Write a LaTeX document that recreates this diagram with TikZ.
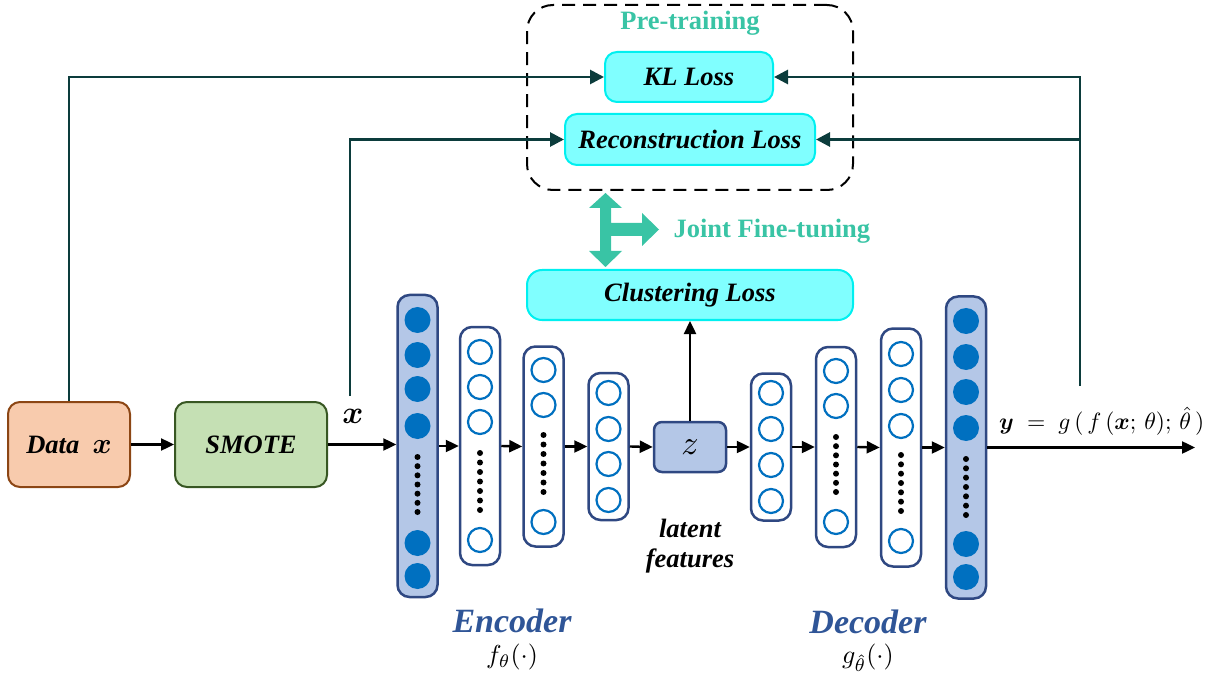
\RequirePackage{fix-cm}
\documentclass[tikz,border=0pt]{standalone}
\usepackage{amsmath}
\usepackage{graphicx}
\usepackage{fontspec}
\setmainfont{Liberation Serif}
\usetikzlibrary{arrows.meta}
\definecolor{cyanfill}{RGB}{128,255,255}
\definecolor{cyanline}{RGB}{0,240,240}
\definecolor{layerfill}{RGB}{180,199,231}
\definecolor{layerline}{RGB}{47,72,130}
\definecolor{cblue}{RGB}{0,112,192}
\definecolor{tealc}{RGB}{57,196,165}
\definecolor{connc}{RGB}{12,60,60}
\definecolor{encc}{RGB}{47,85,151}
\definecolor{datafill}{RGB}{248,203,173}
\definecolor{dataline}{RGB}{140,70,20}
\definecolor{smotefill}{RGB}{197,224,180}
\definecolor{smoteline}{RGB}{56,87,35}
\newcommand\dotcol[3]{\foreach \i in {0,...,6}{\fill[black] (#1,{#2+\i*(#3-#2)/6}) circle[radius=3pt];}}
\newcommand\fcirc[2]{\fill[cblue] (#1,#2) circle[radius=13pt];}
\newcommand\ocirc[2]{\draw[cblue,line width=2.2pt] (#1,#2) circle[radius=12pt];}
\newcommand\scmath[2]{\scalebox{#1}{\fontsize{10}{12}\selectfont$#2$}}
\begin{document}
\begin{tikzpicture}[x=1pt,y=-1pt,
  lbl/.style={font=\fontsize{26.5}{30}\selectfont\bfseries\itshape},
  lossbox/.style={draw=cyanline,fill=cyanfill,line width=2pt,rounded corners=12pt,inner sep=0pt,lbl},
  layerF/.style={draw=layerline,fill=layerfill,line width=2.5pt,rounded corners=12pt,minimum width=40pt,inner sep=0pt},
  layerO/.style={draw=layerline,fill=white,line width=2.5pt,rounded corners=12pt,minimum width=40pt,inner sep=0pt},
  arr/.style={line width=2.4pt,black,-{Triangle[length=13pt,width=12pt]}},
  conn/.style={line width=2.8pt,draw=connc,-{Triangle[length=14pt,width=14pt]}},
  tealtxt/.style={text=tealc,font=\fontsize{26.5}{30}\selectfont\bfseries}
]
\useasboundingbox (0,0) rectangle (1218,676);

% pre-training group
\node[draw=black,line width=2pt,dash pattern=on 13pt off 8pt,rounded corners=26pt,minimum width=326pt,minimum height=185pt] (pre) at (690,97.5) {};
\node[tealtxt] (pretxt) at (690,23) {Pre-training};
\node[lossbox,minimum width=168pt,minimum height=50pt] (KL) at (689,77) {KL Loss};
\node[lossbox,minimum width=250pt,minimum height=51pt] (Rec) at (690,139.5) {Reconstruction Loss};
\node[lossbox,minimum width=326pt,minimum height=50pt,rounded corners=15pt] (Clu) at (690,295) {Clustering Loss};

% joint fine-tuning arrow
\fill[tealc] (605.5,193) -- (622,208) -- (611,208) -- (611,223) -- (642,223) -- (642,213) -- (659,229.5) -- (642,246) -- (642,236) -- (611,236) -- (611,251) -- (622,251) -- (605.5,267) -- (589,251) -- (600,251) -- (600,208) -- (589,208) -- cycle;
\node[tealtxt,anchor=west] (jft) at (670,231) {Joint Fine-tuning};

% input boxes
\node[draw=dataline,fill=datafill,line width=2pt,rounded corners=12pt,minimum width=122pt,minimum height=85pt,lbl] (Data) at (69,444.5) {Data~ \scmath{2.9}{\boldsymbol{x}}};
\node[draw=smoteline,fill=smotefill,line width=2pt,rounded corners=12pt,minimum width=152pt,minimum height=85pt,lbl] (SM) at (251,444.5) {SMOTE};

% layers
\node[layerF,minimum height=302pt] (L1) at (417.5,446) {};
\node[layerO,minimum height=238pt] (L2) at (480,446) {};
\node[layerO,minimum height=200pt] (L3) at (543.5,446.5) {};
\node[layerO,minimum height=147pt] (L4) at (608.5,446.5) {};
\node[draw=layerline,fill=layerfill,line width=2.5pt,rounded corners=8pt,minimum width=72pt,minimum height=50pt,inner sep=0pt] (z) at (690,447) {\scmath{3.4}{z}};
\node[layerO,minimum height=147pt] (L5) at (771,447) {};
\node[layerO,minimum height=200pt] (L6) at (836,447) {};
\node[layerO,minimum height=238pt] (L7) at (901,447.5) {};
\node[layerF,minimum height=302pt] (L8) at (966,447.5) {};

% neurons
\foreach \y in {320,355,389,426,543,576} {\fcirc{417.5}{\y}}
\dotcol{417.5}{457}{512}
\foreach \y in {352,387,422,540} {\ocirc{480}{\y}}
\dotcol{480}{453}{510}
\foreach \y in {370,405,522} {\ocirc{543.5}{\y}}
\dotcol{543.5}{435}{492}
\foreach \y in {393,429,464,500} {\ocirc{608.5}{\y}}
\foreach \y in {393,429,465,501} {\ocirc{771}{\y}}
\foreach \y in {371,406,522} {\ocirc{836}{\y}}
\dotcol{836}{437}{492}
\foreach \y in {354,390,426,541} {\ocirc{901}{\y}}
\dotcol{901}{455}{511}
\foreach \y in {321,357,392,428,544,577} {\fcirc{966}{\y}}
\dotcol{966}{459}{515}

% main flow arrows
\draw[arr] (Data.east) -- (SM.west);
\draw[arr] (SM.east) -- (SM.east -| L1.west);
\draw[arr] (L1.east) -- (L2.west);
\draw[arr] (L2.east) -- (L3.west);
\draw[arr] (L3.east) -- (L4.west);
\draw[arr] (L4.east) -- (z.west);
\draw[arr] (z.east) -- (L5.west);
\draw[arr] (L5.east) -- (L6.west);
\draw[arr] (L6.east) -- (L7.west);
\draw[arr] (L7.east) -- (L8.west);
\coordinate (outend) at (1195,447.5);
\draw[arr] (L8.east) -- (outend);
\draw[arr] (z.north) -- (Clu.south);

% feedback connectors
\coordinate (xs) at (350,396);
\coordinate (ys) at (1080,386);
\draw[conn] (Data.north) |- (KL.west);
\draw[conn] (xs) |- (Rec.west);
\draw[conn] (ys) |- (KL.east);
\draw[conn] (ys |- Rec.east) -- (Rec.east);

% labels
\node (xl) at (353,416) {\scmath{3.2}{\boldsymbol{x}}};
\node[anchor=west,inner sep=0pt] (yl) at (999,421) {\scmath{2.35}{\boldsymbol{y}\;=\;g\,(\,f\,(\boldsymbol{x};\,\theta);\,\hat{\theta}\,)}};
\node[lbl] (lat) at (690,528) {latent};
\node[lbl] (feat) at (690,561) {features};
\node[text=encc,font=\fontsize{34}{36}\selectfont\bfseries\itshape] (enc) at (512,621) {Encoder};
\node[inner sep=0pt] (fth) at (512,657) {\scmath{2.6}{f_\theta(\cdot)}};
\node[text=encc,font=\fontsize{34}{36}\selectfont\bfseries\itshape] (dec) at (868,622) {Decoder};
\node[inner sep=0pt] (gth) at (868,658) {\scmath{2.6}{g_{\hat\theta}(\cdot)}};
\end{tikzpicture}
\end{document}
